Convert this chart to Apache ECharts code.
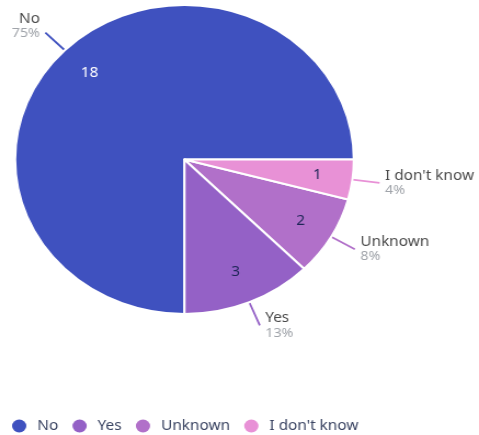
<!DOCTYPE html>
<html>
<head>
<meta charset="utf-8">
<script src="https://cdn.jsdelivr.net/npm/echarts@6/dist/echarts.min.js"></script>
<style>
html,body{margin:0;padding:0;background:#fff;overflow:hidden;}
#wrap{width:479px;height:435px;overflow:hidden;}
#chart{width:437px;height:435px;transform:scaleX(1.0961);transform-origin:0 0;}
</style>
</head>
<body>
<div id="wrap"><div id="chart"></div></div>
<script>
const categories = ['No', 'Yes', 'Unknown', "I don't know"];
const counts = [18, 3, 2, 1];
const sliceColors = ['#3F51BF', '#9461C6', '#B170C9', '#E891D6'];
const innerTextColors = ['#ffffff', '#1e2657', '#1e2657', '#1e2657'];

const chart = echarts.init(document.getElementById('chart'), null, {renderer: 'canvas'});
const font = 'Noto Sans';
const cx = 168.3, cy = 159.5, R = 154.5;

const mainData = categories.map((n, i) => ({
  name: n, value: counts[i], itemStyle: {color: sliceColors[i]}
}));
const labelData = categories.map((n, i) => ({
  name: n, value: counts[i], label: {color: innerTextColors[i]}
}));

chart.setOption({
  animation: false,
  legend: {
    data: categories,
    left: 6,
    top: 414,
    icon: 'circle',
    itemWidth: 13,
    itemHeight: 13,
    itemGap: 13,
    itemStyle: {borderWidth: 0},
    textStyle: {fontFamily: font, fontSize: 14, lineHeight: 14, color: '#3a4462', padding: [0, 0, 0, 5]},
    selectedMode: false
  },
  series: [
    {
      type: 'pie',
      center: [cx, cy],
      radius: [0, R],
      startAngle: 0,
      clockwise: false,
      avoidLabelOverlap: false,
      percentPrecision: 0,
      silent: true,
      data: mainData,
      itemStyle: {borderColor: '#ffffff', borderWidth: 2},
      label: {
        show: true,
        position: 'outside',
        formatter: '{n|{b}}\n{p|{d}%}',
        rich: {
          n: {fontFamily: font, fontSize: 14, color: '#4a4a4a', lineHeight: 15},
          p: {fontFamily: font, fontSize: 13, color: '#a0a4aa', lineHeight: 14}
        }
      },
      labelLayout: function (p) {
        return p.dataIndex === 0 ? {dy: -7} : {};
      },
      labelLine: {show: true, length: 25, length2: 0, smooth: false, lineStyle: {width: 1.8}},
      emphasis: {disabled: true}
    },
    {
      type: 'pie',
      center: [cx, cy],
      radius: [84, R],
      startAngle: 0,
      clockwise: false,
      avoidLabelOverlap: false,
      silent: true,
      data: labelData,
      itemStyle: {color: 'rgba(0,0,0,0)', borderWidth: 0},
      label: {
        show: true,
        position: 'inside',
        formatter: '{c}',
        fontFamily: font,
        fontSize: 14,
        fontWeight: 'normal'
      },
      labelLine: {show: false},
      emphasis: {disabled: true}
    }
  ]
});
</script>
</body>
</html>
